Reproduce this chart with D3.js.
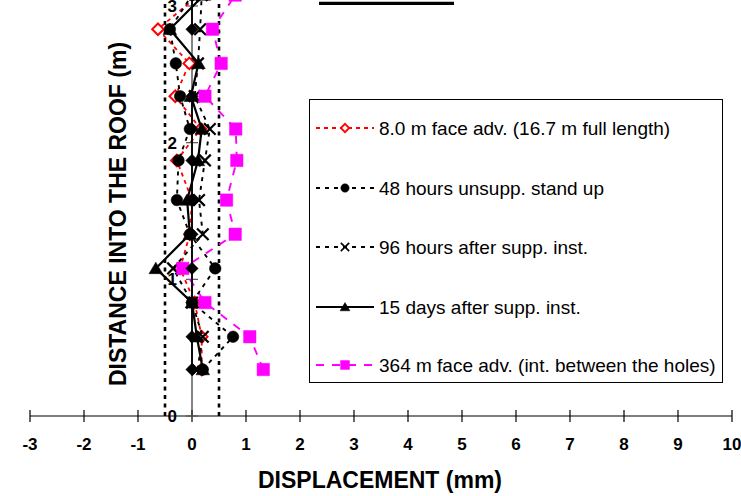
<!DOCTYPE html>
<html>
<head>
<meta charset="utf-8">
<script src="https://cdn.jsdelivr.net/npm/d3@7"></script>
<style>
  html, body { margin: 0; padding: 0; background: #fff; }
  svg { display: block; font-family: Arial, "Liberation Sans", sans-serif; }
</style>
</head>
<body>
<svg id="chart" width="741" height="496"></svg>
<script>
// Depth of each extensometer anchor (m), bottom to top
const depths = [0.34, 0.58, 0.83, 1.08, 1.33, 1.58, 1.87, 2.10, 2.34, 2.58, 2.83, 3.08];

// Displacement readings (mm) at each depth
const face8  = [0.18, 0.18, 0.05, -0.22, -0.04, 0.00, -0.28, 0.16, -0.31, -0.05, -0.63, 0.12];
const hrs48  = [0.20, 0.76, 0.00, 0.43, -0.04, -0.28, -0.25, -0.04, -0.22, -0.30, -0.41, 0.00];
const hrs96  = [0.10, 0.20, 0.00, -0.35, 0.20, 0.13, 0.24, 0.33, 0.05, 0.11, 0.15, 0.18];
const days15 = [0.20, 0.09, 0.00, -0.67, -0.04, -0.09, 0.11, 0.18, -0.02, 0.12, -0.41, 0.22];
const face364 = [1.32, 1.07, 0.24, -0.17, 0.80, 0.64, 0.83, 0.81, 0.24, 0.54, 0.38, 0.80];
const initial = [0, 0, 0, 0, 0, 0, 0, 0, 0, null, 0, 0];

// Limit lines (mm)
const limits = [-0.5, 0.5];

// Axis ticks
const xTicks = [-3, -2, -1, 0, 1, 2, 3, 4, 5, 6, 7, 8, 9, 10];
const yTicks = [0, 1, 2, 3];

const legendLabels = [
  "8.0 m face adv. (16.7 m full length)",
  "48 hours unsupp. stand up",
  "96 hours after supp. inst.",
  "15 days after supp. inst.",
  "364 m face adv. (int. between the holes)"
];

const svg = d3.select("#chart");

const x = d3.scaleLinear().domain([-3, 10]).range([30, 732]);
const y = d3.scaleLinear().domain([0, 3]).range([416, 6]);

// Marker shapes
function markerPath(type, s) {
  const p = d3.path();
  if (type === "diamond") {
    p.moveTo(0, -s); p.lineTo(s, 0); p.lineTo(0, s); p.lineTo(-s, 0); p.closePath();
  } else if (type === "square") {
    p.rect(-s, -s, 2 * s, 2 * s);
  } else if (type === "triangle") {
    p.moveTo(0, -s); p.lineTo(s * 1.1, s * 0.85); p.lineTo(-s * 1.1, s * 0.85); p.closePath();
  } else if (type === "cross") {
    p.moveTo(-s, -s); p.lineTo(s, s); p.moveTo(s, -s); p.lineTo(-s, s);
  } else if (type === "circle") {
    p.arc(0, 0, s, 0, 2 * Math.PI);
  }
  return p.toString();
}

// top bar
svg.append("line")
  .attr("x1", 319).attr("x2", 454).attr("y1", 3.3).attr("y2", 3.3)
  .attr("stroke", "#000").attr("stroke-width", 3.2);

// Limit lines
svg.selectAll("line.limit").data(limits).join("line")
  .attr("class", "limit")
  .attr("x1", d => x(d)).attr("x2", d => x(d))
  .attr("y1", y(0)).attr("y2", 0)
  .attr("stroke", "#000").attr("stroke-width", 2.6)
  .attr("stroke-dasharray", "4,4.5");

// X axis
const gx = svg.append("g").attr("transform", `translate(0,${y(0)})`);
gx.append("line").attr("x1", x(-3)).attr("x2", x(10)).attr("stroke", "#000").attr("stroke-width", 1.2);
gx.selectAll("line.tk").data(xTicks).join("line").attr("class", "tk")
  .attr("x1", d => x(d)).attr("x2", d => x(d)).attr("y1", -6).attr("y2", 6)
  .attr("stroke", "#000").attr("stroke-width", 1.2);
gx.selectAll("text").data(xTicks).join("text")
  .attr("x", d => x(d)).attr("y", 34)
  .attr("text-anchor", "middle")
  .attr("font-size", 17).attr("font-weight", "bold")
  .text(d => d);

// Y axis (crosses at x = 0)
const gy = svg.append("g").attr("transform", `translate(${x(0)},0)`);
gy.append("line").attr("y1", y(0)).attr("y2", 0).attr("stroke", "#333").attr("stroke-width", 1.2);
gy.selectAll("line.tk").data(yTicks).join("line").attr("class", "tk")
  .attr("x1", -6).attr("x2", 6).attr("y1", d => y(d)).attr("y2", d => y(d))
  .attr("stroke", "#555").attr("stroke-width", 1.2);
gy.selectAll("text").data(yTicks).join("text")
  .attr("x", -15).attr("y", d => y(d) + 6)
  .attr("text-anchor", "end")
  .attr("font-size", 17).attr("font-weight", "bold")
  .text(d => d);

// Axis titles
svg.append("text")
  .attr("x", 380).attr("y", 488)
  .attr("text-anchor", "middle")
  .attr("font-size", 23).attr("font-weight", "bold")
  .text("DISPLACEMENT (mm)");
svg.append("text")
  .attr("transform", `translate(126,214) rotate(-90)`)
  .attr("text-anchor", "middle")
  .attr("font-size", 23).attr("font-weight", "bold")
  .text("DISTANCE INTO THE ROOF (m)");

// Series definitions, in drawing order (first is lowest)
const series = [
  { values: face8, color: "#ff0000", dash: "4,4", width: 1.8, marker: "diamond", size: 5.8, fill: "#fff", legend: 0 },
  { values: hrs96, color: "#000", dash: "4,5", width: 1.9, marker: "cross", size: 5.8, fill: "none", legend: 2 },
  { values: face364, color: "#ff00ff", dash: "8,8", width: 1.9, marker: "square", size: 6.2, fill: "#ff00ff", legend: 4 },
  { values: initial, color: "#000", dash: null, width: 1.8, marker: "diamond", size: 6.2, fill: "#000", legend: -1 },
  { values: days15, color: "#000", dash: null, width: 2.2, marker: "triangle", size: 6.2, fill: "#000", legend: 3 },
  { values: hrs48, color: "#000", dash: "4,5", width: 1.9, marker: "circle", size: 5.8, fill: "#000", legend: 1 }
];

const line = d3.line()
  .defined(d => d[0] != null)
  .x(d => x(d[0])).y(d => y(d[1]));

series.forEach(s => {
  const pts = s.values.map((v, i) => [v, depths[i]]);
  const g = svg.append("g");
  g.append("path")
    .attr("d", line(pts))
    .attr("fill", "none")
    .attr("stroke", s.color)
    .attr("stroke-width", s.width)
    .attr("stroke-dasharray", s.dash);
  g.selectAll("path.m").data(pts.filter(d => d[0] != null)).join("path").attr("class", "m")
    .attr("transform", d => `translate(${x(d[0])},${y(d[1])})`)
    .attr("d", markerPath(s.marker, s.size))
    .attr("fill", s.fill)
    .attr("stroke", s.color)
    .attr("stroke-width", s.marker === "cross" ? 2.2 : (s.fill === "#fff" ? 2 : 0.5));
});

// Legend
const lg = svg.append("g");
lg.append("rect")
  .attr("x", 309.5).attr("y", 99.5).attr("width", 413).attr("height", 283)
  .attr("fill", "#fff").attr("stroke", "#000").attr("stroke-width", 1);
const legendRows = [128, 188, 247, 307, 365];
series.filter(s => s.legend >= 0).forEach(s => {
  const cy = legendRows[s.legend];
  lg.append("line")
    .attr("x1", 316).attr("x2", 374).attr("y1", cy).attr("y2", cy)
    .attr("stroke", s.color).attr("stroke-width", s.width)
    .attr("stroke-dasharray", s.dash);
  lg.append("path")
    .attr("transform", `translate(345,${cy})`)
    .attr("d", markerPath(s.marker, s.size * 0.72))
    .attr("fill", s.fill)
    .attr("stroke", s.color)
    .attr("stroke-width", s.marker === "cross" ? 1.6 : (s.fill === "#fff" ? 1.8 : 0.5));
  lg.append("text")
    .attr("x", 379).attr("y", cy + 7)
    .attr("font-size", 19)
    .text(legendLabels[s.legend]);
});
</script>
</body>
</html>
